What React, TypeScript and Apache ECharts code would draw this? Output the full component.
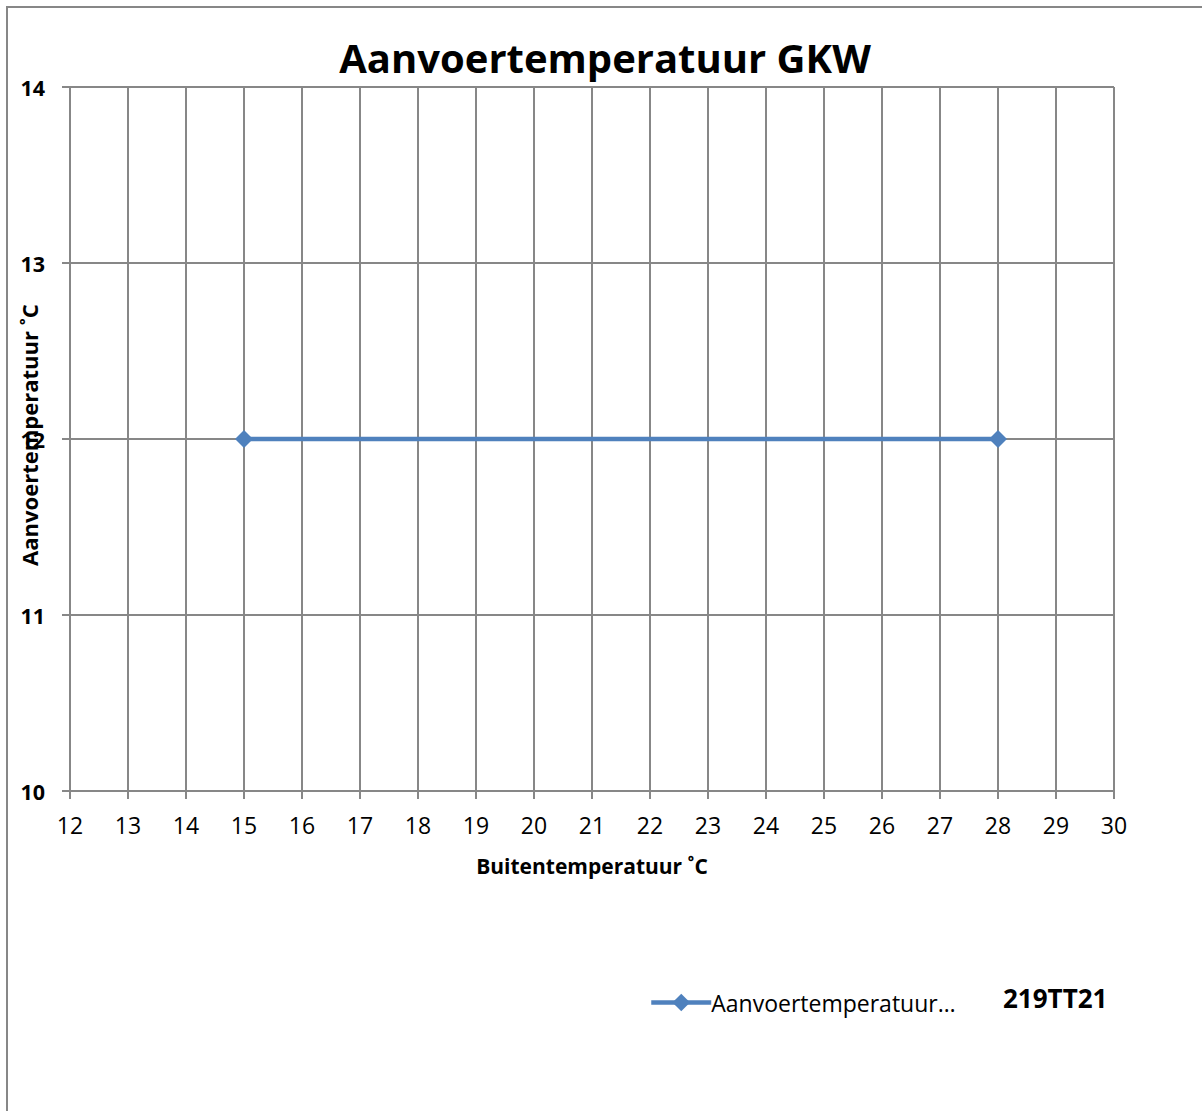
import React, { useEffect, useRef } from "react";
import * as echarts from "echarts";

const xValues = [15, 28];
const yValues = [12, 12];
const seriesName = "Aanvoertemperatuur…";
const extraLegend = "219TT21";
const titleText = "Aanvoertemperatuur GKW";
const xName = "Buitentemperatuur ˚C";
const yName = "Aanvoertemperatuur ˚C";

export default function App() {
  const ref = useRef<HTMLDivElement>(null);
  useEffect(() => {
    if (!ref.current) return;
    const chart = echarts.init(ref.current, null, { renderer: "svg" });
    const font = "Open Sans";
    const gray = "#878787";
    chart.setOption({
      animation: false,
      backgroundColor: "#fff",
      title: {
        text: titleText,
        left: "center",
        top: 24,
        textStyle: { fontFamily: font, fontSize: 40, fontWeight: "bold", color: "#000" },
      },
      grid: { left: 62, top: 79, right: 88, bottom: 320, containLabel: false, outerBoundsMode: "none" },
      xAxis: {
        type: "value",
        min: 12,
        max: 30,
        interval: 1,
        name: xName,
        nameLocation: "middle",
        nameGap: 64,
        nameMoveOverlap: false,
        nameTextStyle: { fontFamily: font, fontSize: 21, fontWeight: "bold", color: "#000" },
        axisLine: { show: true, lineStyle: { color: gray, width: 2 } },
        axisTick: { show: true, length: 8, lineStyle: { color: gray, width: 2 } },
        axisLabel: { fontFamily: font, fontSize: 23, color: "#000", margin: 22 },
        splitLine: { show: true, lineStyle: { color: gray, width: 2 } },
      },
      yAxis: {
        type: "value",
        min: 10,
        max: 14,
        interval: 1,
        name: yName,
        nameLocation: "middle",
        nameGap: 30,
        nameRotate: 90,
        nameMoveOverlap: false,
        nameTextStyle: { fontFamily: font, fontSize: 22, fontWeight: "bold", color: "#000", padding: [0, 0, 0, 8] },
        axisLine: { show: true, lineStyle: { color: gray, width: 2 } },
        axisTick: { show: true, length: 8, lineStyle: { color: gray, width: 2 } },
        axisLabel: { fontFamily: font, fontSize: 21.5, fontWeight: "bold", color: "#000", margin: 25 },
        splitLine: { show: true, lineStyle: { color: gray, width: 2 } },
      },
      legend: {
        left: 636,
        top: 978,
        itemWidth: 60,
        itemHeight: 22,
        itemGap: 0,
        lineStyle: { width: 4.5 },
        textStyle: { fontFamily: font, fontSize: 23, color: "#000", padding: [0, 0, 0, -5] },
        data: [{ name: seriesName }],
      },
      graphic: [
        {
          type: "text",
          left: 995,
          top: 977,
          style: {
            text: extraLegend,
            font: `bold 26px '${font}'`,
            fill: "#000",
          },
        },
      ],
      series: [
        {
          name: seriesName,
          type: "line",
          data: xValues.map((x, i) => [x, yValues[i]]),
          lineStyle: { color: "#4F81BD", width: 4.5 },
          itemStyle: { color: "#4F81BD" },
          symbol: "diamond",
          symbolSize: 18,
        },
      ],
    });
    return () => chart.dispose();
  }, []);
  return (
    <div
      style={{
        position: "absolute",
        left: 6,
        top: 6,
        borderLeft: "2px solid #878787",
        borderTop: "2px solid #878787",
        width: 1194,
        height: 1103,
      }}
    >
      <div ref={ref} style={{ width: 1194, height: 1103 }} />
    </div>
  );
}
